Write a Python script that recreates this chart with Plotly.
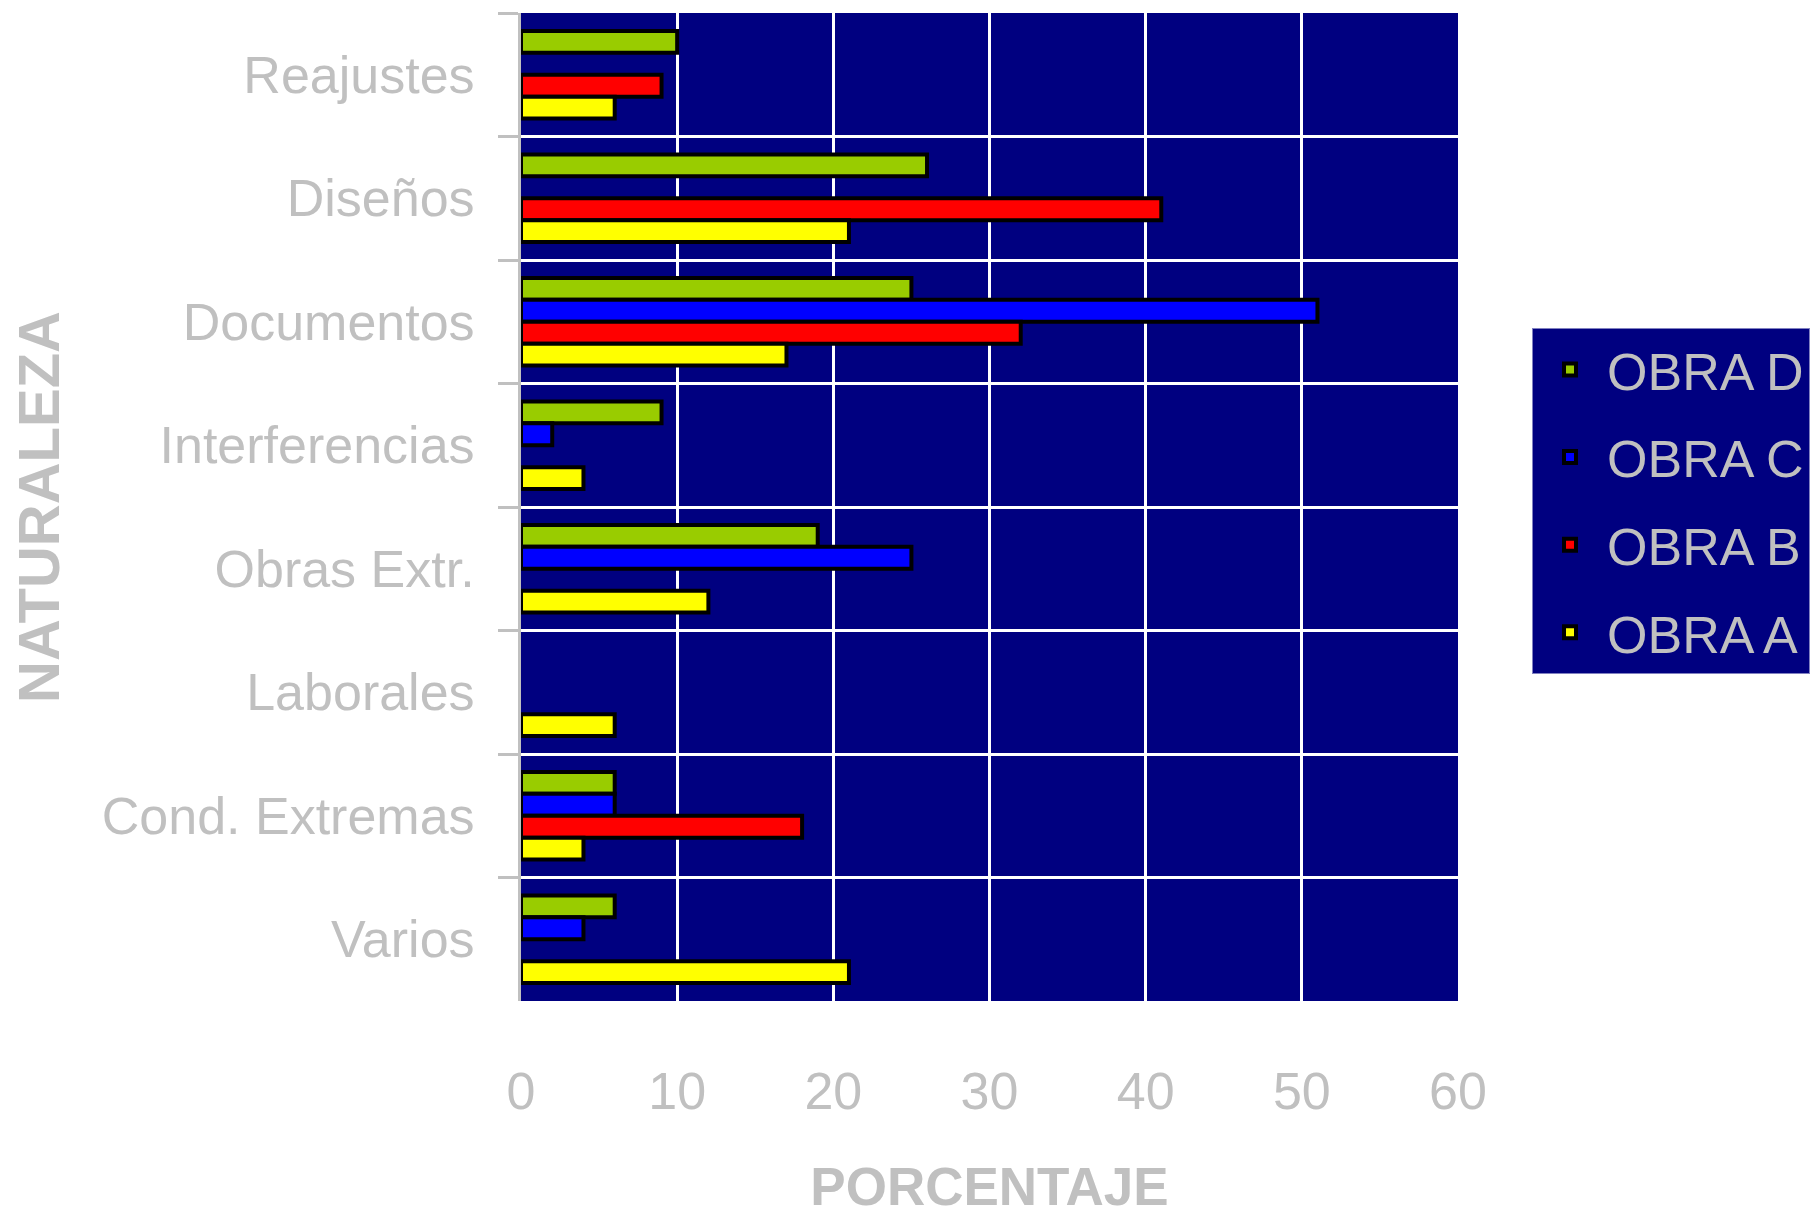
import plotly.graph_objects as go

categories = ["Reajustes", "Diseños", "Documentos", "Interferencias",
              "Obras Extr.", "Laborales", "Cond. Extremas", "Varios"]
obra_d = [10, 26, 25, 9, 19, None, 6, 6]
obra_c = [None, None, 51, 2, 25, None, 6, 4]
obra_b = [9, 41, 32, None, None, None, 18, None]
obra_a = [6, 21, 17, 4, 12, 6, 4, 21]
series_names = ["OBRA D", "OBRA C", "OBRA B", "OBRA A"]
series_values = [obra_d, obra_c, obra_b, obra_a]
series_colors = ["#99CC00", "#0000FF", "#FF0000", "#FFFF00"]
x_ticks = [0, 10, 20, 30, 40, 50, 60]

GRAY = "#C0C0C0"
NAVY = "#000080"
FONT = "Liberation Sans, Arial, sans-serif"

fig = go.Figure()
for name, vals, col in zip(series_names, series_values, series_colors):
    fig.add_trace(go.Bar(
        y=categories, x=vals, name=name, orientation="h",
        marker=dict(color=col, line=dict(color="black", width=4)),
        legendgroup=name,
    ))

fig.update_layout(
    width=1819, height=1216,
    margin=dict(l=521, r=361, t=13, b=215, autoexpand=False),
    paper_bgcolor="white", plot_bgcolor=NAVY,
    barmode="group", bargap=0.29, bargroupgap=0,
    font=dict(family=FONT, color=GRAY, size=52),
    showlegend=True,
    legend=dict(
        x=1.079, y=0.681, xanchor="left", yanchor="top",
        bgcolor=NAVY, bordercolor="#8080C0", borderwidth=1,
        font=dict(family=FONT, color=GRAY, size=52),
        traceorder="grouped", tracegroupgap=17, itemwidth=64,
    ),
)

fig.update_yaxes(
    type="category", categoryorder="array", categoryarray=categories,
    autorange="reversed", tickson="boundaries",
    ticks="outside", ticklen=20, tickwidth=3, tickcolor=GRAY,
    showline=True, linecolor=GRAY, linewidth=3,
    showgrid=True, gridcolor="white", gridwidth=3,
    tickfont=dict(family=FONT, color=GRAY, size=52),
    ticklabelstandoff=33,
    title=dict(text="<b>NATURALEZA</b>", font=dict(family=FONT, color=GRAY, size=58), standoff=24),
)
fig.update_xaxes(
    range=[0, 60], tickvals=x_ticks, ticktext=[str(v) for v in x_ticks],
    showgrid=True, gridcolor="white", gridwidth=3,
    zeroline=False, showline=False, ticks="",
    tickfont=dict(family=FONT, color=GRAY, size=52),
    ticklabelstandoff=55,
    title=dict(text="<b>PORCENTAJE</b>", font=dict(family=FONT, color=GRAY, size=53), standoff=52),
)

fig.write_html("out.html")
